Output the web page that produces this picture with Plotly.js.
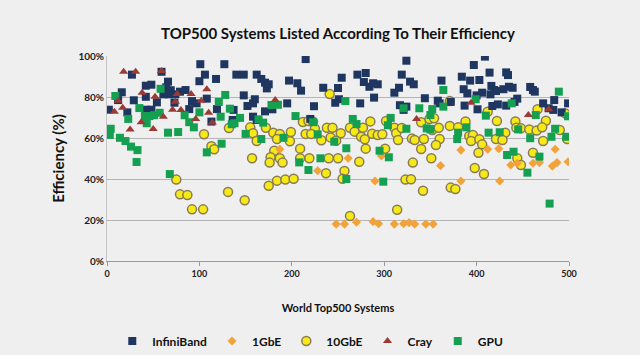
<!DOCTYPE html>
<html><head><meta charset="utf-8">
<script src="https://cdn.plot.ly/plotly-3.0.1.min.js"></script>
<style>html,body{margin:0;padding:0;background:#efefef;}#chart{width:640px;height:355px;}</style>
</head><body><div id="chart"></div>
<script>
// Series: InfiniBand (system rank, efficiency %)
const ibX = [101,127,27,59,106,100,118,140,148,162, 42,48,66,64,69,16,12,29,42,54, 61,67,74,79,85,73,92,97,108,148, 2,22,42,48,89,119,137,152,158,160, 158,113,136,162,
  215,324,167,171,175,173,197,206,210,254, 271,280,278,284,288,293,234,250,319,311, 316,289,195,247,251,274,171,179,224,220, 317,321,
  409,397,414,432,434,328,332,362,384,393, 403,416,419,429,435,439,458,461,463,386, 390,400,406,415,421,344,358,360,372,387, 401,417,423,432,441,444,472,484,478,483, 499,324,492];
const ibY = [96,96,90.9,92.3,90.9,87.7,88.8,90.9,90.9,90.9, 85.5,86,87.5,84.7,83.3,82.3,78.5,78.4,80.1,77.4, 81.3,81.3,81.3,82.6,83.4,77.2,78,76.9,79.2,80.8, 73.8,72.5,73.8,73.8,74.1,74.1,73.7,75.6,76.9,78.9, 70.4,68,68.8,68.8,
  98.5,97.7,88.8,87,86.2,84.2,88,86.7,83.1,89.4, 90.9,91.7,87.3,85,86.7,86.2,84.5,84.4,90.9,82.1, 84.5,79.7,76.9,77.2,78.9,76.9,73,74,75.5,69.3, 76,73.7,
  99.7,95.6,91.9,92,90.7,87.5,86.2,88,89.9,88, 88.3,85.4,83.4,83.8,85,84.5,84.9,83.4,82.6,83.8, 81.8,80.8,82.1,81.3,82.9,79.4,78.2,76.9,77.6,75.8, 74,75.6,76.4,75.8,77.6,79.2,76.9,78.5,74.5,73.7, 76.9,75.3,72.5];

// 1GbE
const gb1X = [187,261,297,228,290,248,257,270,288,294, 311,321,327,333,345,353,383,412,424,485, 361,383,425,437,444,461,468,482,487,499];
const gb1Y = [54.5,50.1,51.2,44,39,18,18,18.9,19.2,18.2, 18,18.2,18.7,18,18,18,54.1,54.5,54.8,54.5, 46.5,39,39,46.8,47.7,47.7,48,46.3,48,48.4];

// 10GbE
const gb10X = [105,113,116,132,155,158,162,157,75,79, 87,92,104,131,149,
  241,212,218,223,285,302,172,180,187,199, 184,198,215,225,238,244,253,221,232,242, 248,263,268,275,279,277,287,293,298,311, 313,315,319,209,181,280,301,177,187,209, 219,250,240,
  176,190,273,175,184,193,202,237,257,255, 323,263,314,
  371,466,412,496,340,349,354,388,422,442, 475,352,359,371,380,431,443,448,457,465, 471,490,330,333,343,360,392,396,394,403, 421,428,356,340,406,402,461,472,498,351, 444,
  331,329,342,372,377,398,408,448];
const gb10Y = [61.8,56,54.5,64.9,65.2,62.3,58.5,50.1,39.7,32.5, 32.2,25.2,25.2,33.7,29.6,
  81.5,67.8,68.3,68,68.1,68.3,65,62.6,62,62.9, 59.5,58.4,62,64.5,65,65,62.3,62,58.9,60.3, 58.7,65,63.1,60.6,59.4,65,62.1,61.5,61.8,65, 62.3,59,64.9,54.8,53.8,54.8,54.8,50.6,50.1,50.1, 50.1,50.1,50.1,
  48,48,48.4,36.7,39.2,39.7,40.1,42.8,43.9,40.1, 39.7,22,25,
  78,74,72.8,72,67.7,69.3,69.6,68.1,68.3,68.1, 68.4,63.9,65,65.9,65.2,62.6,65,64.7,64.2,63.6, 65.2,63.9,59.7,59,59.5,59.5,61,61.5,58.5,59.4, 59.5,59,56.6,54.6,56.9,52.8,52.8,58.5,59.5,50.1, 50.1,
  48,39.9,34.3,35.8,35.1,45.4,42.4,46.8];

// Cray
const crayX = [18,31,59,12,38,52,76,91,108,102, 74,8,17,71,80,110,37,61,96,25, 50,114,182,394,478,335,456];
const crayY = [92.3,92.3,92.7,78.2,82.1,80.1,81.5,81.5,83.8,78.2, 77.7,72.8,74.8,73.8,73.7,72.3,67.7,70.4,69.3,64.2, 64.4,67.5,78.5,77.2,74,69.3,71.2];

// GPU
const gpuX = [9,58,128,121,35,100,133,23,41,46, 51,57,84,43,89,94,123,144,135,138, 4,3,66,77,14,20,26,33,124,108, 150,164,32,68,
  258,178,185,169,204,223,266,270,307,304, 321,324,167,191,228,246,259,295,305,231,
  208,218,259,299,
  364,489,399,438,338,352,364,350,410,464, 499,346,350,389,380,379,413,425,445,458, 485,481,497,440,433,468,
  455,479];
const gpuY = [80.5,84,81,77.6,74.6,72.5,74.3,69.3,70.7,70.7, 71.1,72.3,71.1,67.2,67.7,65.2,70.4,69.8,66.7,67.2, 64.5,61.5,62.6,62.9,60.1,58.5,55.8,54.1,57.2,53, 62,69.1,48.3,42.4,
  78,76.1,76.2,67.5,70.7,67.7,69.3,66.8,69.8,66.2, 74.5,64.5,59.5,60.1,61.8,58.2,55,53.8,50.6,50.1,
  48.1,44.4,40,38.7,
  83.4,82.6,78.9,76.9,74.5,74.1,75.3,71.2,70.9,71.2, 70.6,64.7,64.2,65.2,62.6,59.5,62.6,62.8,64.2,59.9, 64.5,60.6,60.6,53.3,51.7,50.9,
  43.1,28];

const xTicks = [0,100,200,300,400,500];
const yTicks = [0,20,40,60,80,100];
const yTickText = ['0%','20%','40%','60%','80%','100%'];

const FONT = 'Lato, "Open Sans", sans-serif';

const traces = [
  {name:'<b>10GbE</b>', x:gb10X, y:gb10Y, type:'scatter', mode:'markers', legendrank:3,
   marker:{symbol:'circle', size:9, color:'#f6ea16', line:{color:'#8a7a58', width:1.5}}},
  {name:'<b>1GbE</b>', x:gb1X, y:gb1Y, type:'scatter', mode:'markers', legendrank:2,
   marker:{symbol:'diamond', size:7, color:'#f2a23a', line:{width:0}}},
  {name:'<b>InfiniBand</b>', x:ibX, y:ibY, type:'scatter', mode:'markers', legendrank:1,
   marker:{symbol:'square', size:8, color:'#1e3660', line:{width:0}}},
  {name:'<b>GPU</b>', x:gpuX, y:gpuY, type:'scatter', mode:'markers', legendrank:5,
   marker:{symbol:'square', size:8, color:'#14a050', line:{width:0}}},
  {name:'<b>Cray</b>', x:crayX, y:crayY, type:'scatter', mode:'markers', legendrank:4,
   marker:{symbol:'triangle-up', size:8, color:'#9c3a34', line:{width:0}}}
];

const layout = {
  width:640, height:355,
  paper_bgcolor:'#efefef', plot_bgcolor:'#efefef',
  margin:{l:107, r:71, t:56, b:94, autoexpand:false},
  font:{family:FONT, color:'#1a1a1a'},
  title:{text:'<b>TOP500 Systems Listed According To Their Efficiency</b>', font:{size:15, family:FONT, color:'#111'},
         x:0.5, xref:'paper', y:0.905, yref:'container', yanchor:'middle'},
  xaxis:{range:[0,500], tickvals:xTicks, ticktext:xTicks.map(v=>'<b>'+v+'</b>'), tickfont:{size:9, color:'#222'},
         showgrid:false, zeroline:false, showline:true, linecolor:'#9a9a9a', linewidth:1,
         ticks:'outside', ticklen:4, tickcolor:'#9a9a9a', automargin:false,
         title:{text:'<b>World Top500 Systems</b>', font:{size:11, color:'#111'}, standoff:26}},
  yaxis:{range:[0,100], tickvals:yTicks, ticktext:yTickText.map(v=>'<b>'+v+'</b>'), tickfont:{size:10, color:'#222'},
         showgrid:true, gridcolor:'#b5b5b5', gridwidth:1, zeroline:false, showline:true, linecolor:'#c4c4c4',
         ticks:'', automargin:false,
         title:{text:'<b>Efficiency (%)</b>', font:{size:15, color:'#111'}, standoff:10}},
  showlegend:true,
  legend:{orientation:'h', x:0.44, xanchor:'center', y:-0.39, yanchor:'middle',
          font:{size:12, color:'#111', family:FONT}, bgcolor:'rgba(0,0,0,0)', itemwidth:30, traceorder:'normal'}
};

Plotly.newPlot('chart', traces, layout, {displayModeBar:false, staticPlot:true});
</script>
</body></html>
